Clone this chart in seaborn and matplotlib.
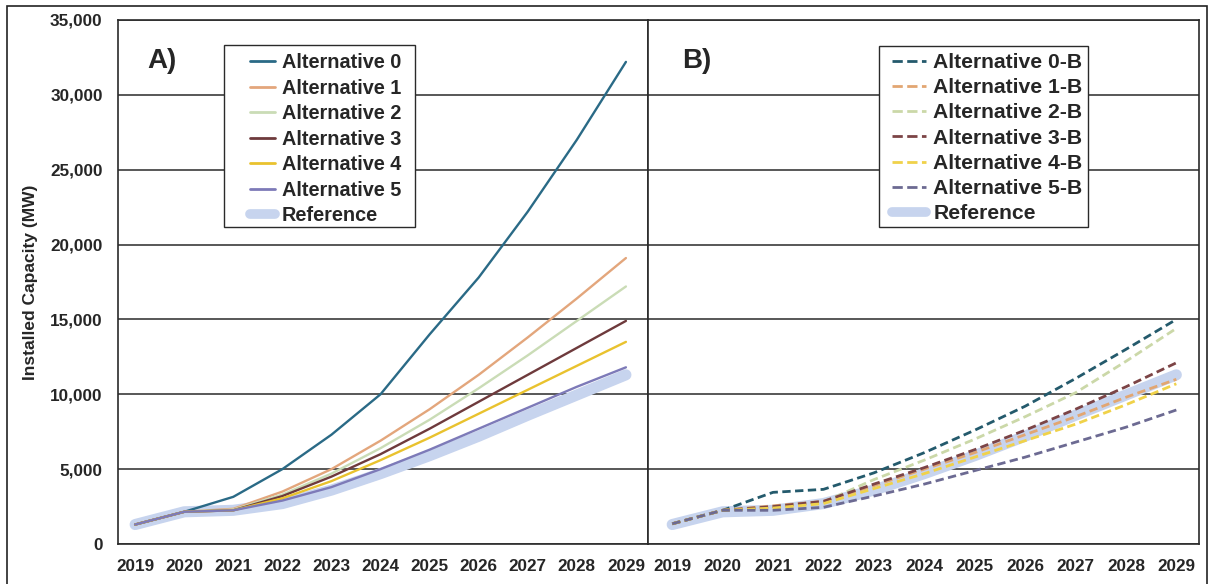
import pandas as pd
import seaborn as sns
import matplotlib.pyplot as plt
from matplotlib.lines import Line2D
from matplotlib.patches import Rectangle

# ---- data (MW) ----
years = list(range(2019, 2030))

reference = [1300, 2150, 2250, 2700, 3600, 4700, 5900, 7200, 8600, 9950, 11300]

alt_0 = [1300, 2150, 3150, 5000, 7300, 10000, 14000, 17800, 22200, 27000, 32200]
alt_1 = [1300, 2150, 2350, 3500, 5000, 6900, 9000, 11300, 13800, 16400, 19100]
alt_2 = [1300, 2150, 2300, 3300, 4700, 6400, 8300, 10400, 12600, 14900, 17200]
alt_3 = [1300, 2150, 2250, 3200, 4500, 6000, 7700, 9500, 11300, 13100, 14900]
alt_4 = [1300, 2150, 2250, 3050, 4200, 5600, 7100, 8700, 10300, 11900, 13500]
alt_5 = [1300, 2150, 2250, 2900, 3800, 5000, 6300, 7700, 9100, 10500, 11800]

alt_0b = [1350, 2250, 3450, 3650, 4750, 6100, 7600, 9200, 11050, 13000, 15000]
alt_1b = [1350, 2250, 2550, 2850, 3900, 5000, 6100, 7300, 8500, 9800, 11000]
alt_2b = [1350, 2250, 2450, 2800, 4300, 5600, 7000, 8500, 10100, 12200, 14400]
alt_3b = [1350, 2250, 2500, 2850, 4000, 5100, 6300, 7600, 9000, 10500, 12100]
alt_4b = [1350, 2250, 2400, 2700, 3700, 4700, 5800, 6900, 8000, 9300, 10700]
alt_5b = [1350, 2250, 2250, 2450, 3200, 4000, 4900, 5800, 6800, 7800, 8950]

names_a = ["Alternative 0", "Alternative 1", "Alternative 2",
           "Alternative 3", "Alternative 4", "Alternative 5"]
names_b = [n + "-B" for n in names_a]
colors_a = ["#2a6a86", "#e3a67c", "#cadcb6", "#6e3a3c", "#e9c22e", "#7d7ab8"]
colors_b = ["#245a6c", "#e2a672", "#cbd8a8", "#7c4446", "#f0d24a", "#6c6a92"]
ref_color = "#c7d4ee"


def long_df(names, series):
    rows = []
    for n, vals in zip(names, series):
        for y, v in zip(years, vals):
            rows.append({"Year": y, "Capacity": v, "Series": n})
    return pd.DataFrame(rows)


df_a = long_df(names_a, [alt_0, alt_1, alt_2, alt_3, alt_4, alt_5])
df_b = long_df(names_b, [alt_0b, alt_1b, alt_2b, alt_3b, alt_4b, alt_5b])
df_ref = pd.DataFrame({"Year": years, "Capacity": reference})

sns.set_theme(style="white")
plt.rcParams["font.family"] = ["Liberation Sans", "DejaVu Sans"]
plt.rcParams["font.weight"] = "bold"

fig = plt.figure(figsize=(12.11, 5.84), dpi=100)
ax1 = fig.add_axes([0.0974, 0.0685, 0.4377, 0.8973])
ax2 = fig.add_axes([0.5351, 0.0685, 0.4550, 0.8973], sharey=ax1)

# outer frame
fig.patches.append(Rectangle((7 / 1211, -0.01), 1200 / 1211, 1.0 - 6 / 584 + 0.01,
                             transform=fig.transFigure, fill=False,
                             edgecolor="#222222", linewidth=1.2))

# panel settings: axes, data, names, colours, style, letter, letter x,
# legend box (x, y, w, h), legend anchor, font size, spacing, handle length, xlim
panels = [
    (ax1, df_a, names_a, colors_a, "-", "A)", 0.083,
     (0.2, 0.605, 0.3604, 0.347), (0.249, 0.937), 14.3, 0.33, 1.26,
     (2018.65, 2029.45)),
    (ax2, df_b, names_b, colors_b, "--", "B)", 0.089,
     (0.419, 0.605, 0.379, 0.345), (0.443, 0.937), 15.2, 0.295, 1.6,
     (2018.52, 2029.45)),
]

for (ax, df, names, cols, ls, letter, letter_x, box, anchor, fs, lsp, hl,
     xlim) in panels:
    sns.lineplot(data=df_ref, x="Year", y="Capacity", ax=ax, color=ref_color,
                 linewidth=8, solid_capstyle="round", zorder=3)
    sns.lineplot(data=df, x="Year", y="Capacity", hue="Series", hue_order=names,
                 palette=dict(zip(names, cols)), ax=ax, legend=False,
                 zorder=4, linewidth=1.7 if ls == "-" else 2.0)
    if ls == "--":
        for ln in ax.get_lines()[1:]:
            ln.set_linestyle((0, (3, 1.6)))

    ax.set_xlim(*xlim)
    ax.set_ylim(0, 35000)
    ax.set_xticks(years)
    ax.set_xticklabels([str(y) for y in years])
    ax.set_yticks(range(0, 35001, 5000))
    ax.grid(axis="y", color="#2a2a2a", linewidth=1.1, zorder=0)
    ax.grid(axis="x", visible=False)
    ax.set_xlabel("")
    for s in ax.spines.values():
        s.set_color("#2a2a2a")
        s.set_linewidth(1.2)
    ax.tick_params(length=0, pad=11, labelsize=12.3)

    ax.text(letter_x, 0.922, letter, transform=ax.transAxes,
            fontsize=20, fontweight="bold", ha="center", va="center", zorder=6)

    # legend box drawn by hand so the padding matches the reference
    ax.add_patch(Rectangle(box[:2], box[2], box[3], transform=ax.transAxes,
                           facecolor="white", edgecolor="#2a2a2a",
                           linewidth=1.0, zorder=5))
    handles = [Line2D([], [], color=c, linewidth=2, linestyle=ls) for c in cols]
    handles.append(Line2D([], [], color=ref_color, linewidth=7))
    leg = ax.legend(handles, names + ["Reference"], loc="upper left",
                    bbox_to_anchor=anchor, fontsize=fs, frameon=False,
                    handlelength=hl, handletextpad=0.35, labelspacing=lsp,
                    borderpad=0, borderaxespad=0)
    leg.set_zorder(6)

ax1.yaxis.set_major_formatter(plt.FuncFormatter(lambda v, p: f"{v:,.0f}"))
ax1.set_ylabel("Installed Capacity (MW)", fontsize=12.5, fontweight="bold", labelpad=9)
ax2.set_ylabel("")
ax2.tick_params(axis="y", labelleft=False)

for lbl in ax1.get_xticklabels() + ax1.get_yticklabels() + ax2.get_xticklabels():
    lbl.set_fontweight("bold")

fig.savefig("out.png", dpi=100)
